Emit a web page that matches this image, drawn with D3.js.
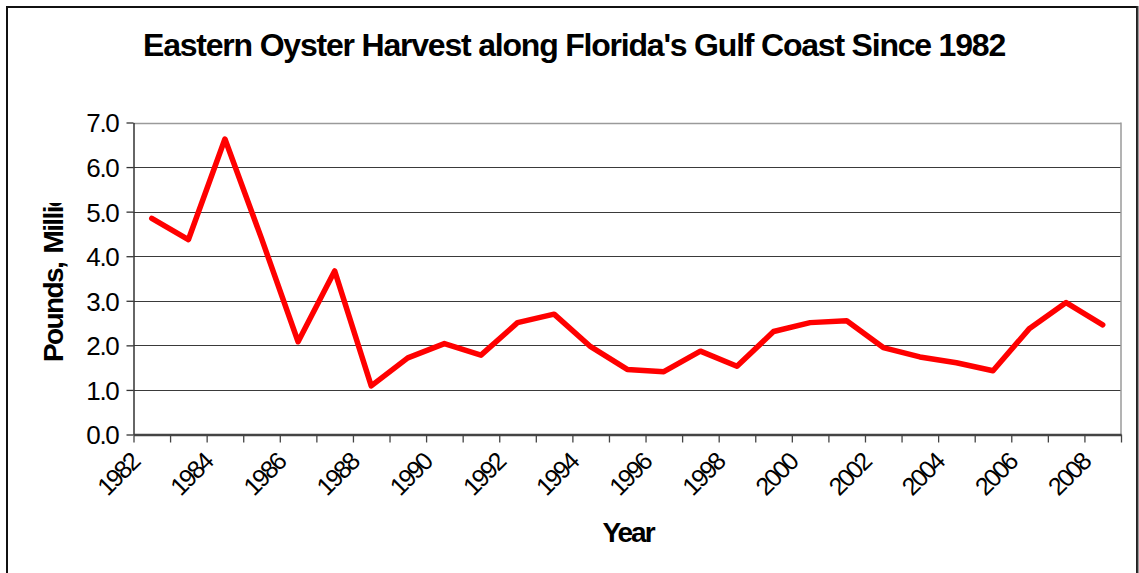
<!DOCTYPE html>
<html>
<head>
<meta charset="utf-8">
<script src="https://cdn.jsdelivr.net/npm/d3@7"></script>
<style>
  html, body { margin: 0; padding: 0; background: #fff; }
  svg { display: block; font-family: Arial, "Liberation Sans", sans-serif; }
</style>
</head>
<body>
<svg id="chart" width="1139" height="573"></svg>
<script>
// ---- data ----
const years = [1982,1983,1984,1985,1986,1987,1988,1989,1990,1991,1992,1993,1994,1995,1996,1997,1998,1999,2000,2001,2002,2003,2004,2005,2006,2007,2008];
const harvest = [4.85,4.37,6.63,4.40,2.08,3.67,1.09,1.72,2.04,1.78,2.51,2.70,1.97,1.46,1.41,1.87,1.53,2.31,2.51,2.55,1.95,1.74,1.61,1.43,2.38,2.96,2.46];
const yTicks = [0,1,2,3,4,5,6,7];
const xLabelYears = [1982,1984,1986,1988,1990,1992,1994,1996,1998,2000,2002,2004,2006,2008];
const titleText = "Eastern Oyster Harvest along Florida's Gulf Coast Since 1982";
const yTitle = "Pounds, Millions";
const xTitle = "Year";

// ---- layout ----
const svg = d3.select("#chart");
const plot = {left: 133.5, right: 1121, top: 122.5, bottom: 434.5};

// outer border
svg.append("rect").attr("x", 7).attr("y", 7).attr("width", 1130).attr("height", 600)
  .attr("fill", "none").attr("stroke", "#111").attr("stroke-width", 2);
svg.append("line").attr("x1", 1137.5).attr("x2", 1137.5).attr("y1", 6).attr("y2", 573)
  .attr("stroke", "#333").attr("stroke-width", 2);

const x = d3.scaleBand().domain(years).range([plot.left, plot.right]).padding(0);
const xt = d3.scaleLinear().domain([0, years.length]).range([plot.left, plot.right]);
const y = d3.scaleLinear().domain([0, 7]).range([plot.bottom, plot.top]);

// gridlines
svg.append("g").selectAll("line").data(yTicks.filter(d => d > 0)).join("line")
  .attr("x1", plot.left).attr("x2", plot.right)
  .attr("y1", d => Math.round(y(d)) + 0.5).attr("y2", d => Math.round(y(d)) + 0.5)
  .attr("stroke", d => d === 7 ? "#9a9a9a" : "#3a3a3a").attr("stroke-width", d => d === 7 ? 1.5 : 1.2);

// plot right border
svg.append("line").attr("x1", plot.right).attr("x2", plot.right).attr("y1", plot.top).attr("y2", plot.bottom)
  .attr("stroke", "#9a9a9a").attr("stroke-width", 1.5);

// y axis
const yAxis = svg.append("g").attr("transform", `translate(${plot.left},0)`)
  .call(d3.axisLeft(y).tickValues(yTicks).tickFormat(d3.format(".1f")).tickSize(7).tickSizeOuter(0));
yAxis.select(".domain").attr("stroke", "#333").attr("stroke-width", 1.5);
yAxis.selectAll(".tick line").attr("stroke", "#333").attr("stroke-width", 1.3);
yAxis.selectAll(".tick text").attr("x", -15).attr("dy", "0.36em")
  .attr("font-size", 26).attr("letter-spacing", -1.3).attr("fill", "#000")
  .attr("font-family", "Arial, 'Liberation Sans', sans-serif");

// x axis (ticks at category boundaries)
const xAxis = svg.append("g").attr("transform", `translate(0,${plot.bottom})`)
  .call(d3.axisBottom(xt).tickValues(d3.range(years.length + 1)).tickFormat("").tickSize(8).tickSizeOuter(0));
xAxis.select(".domain").attr("stroke", "#444").attr("stroke-width", 2.5);
xAxis.selectAll(".tick line").attr("stroke", "#444").attr("stroke-width", 1.3);

// x labels
svg.append("g").selectAll("text").data(xLabelYears).join("text")
  .attr("transform", d => `translate(${x(d) + x.bandwidth() / 2 - 11},${464}) rotate(-45)`)
  .attr("text-anchor", "end")
  .attr("font-size", 25).attr("letter-spacing", -2.2).attr("fill", "#000")
  .text(d => d);

// line
const line = d3.line().x((d, i) => x(years[i]) + x.bandwidth() / 2).y(d => y(d));
svg.append("path").datum(harvest).attr("d", line)
  .attr("fill", "none").attr("stroke", "#ff0000").attr("stroke-width", 5.5)
  .attr("stroke-linejoin", "round").attr("stroke-linecap", "round");

// title
const t = svg.append("text").attr("x", 574).attr("y", 56).attr("text-anchor", "middle")
  .attr("font-size", 32).attr("font-weight", "bold")
  .attr("fill", "#000").text(titleText);
(function fit(el, target) {
  const n = titleText.length;
  const w = el.node().getComputedTextLength();
  el.attr("letter-spacing", (target - w) / n);
})(t, 862);

// y title (clipped as in reference)
svg.append("clipPath").attr("id", "yclip").append("rect")
  .attr("x", 20).attr("y", 203).attr("width", 60).attr("height", 200);
svg.append("g").attr("clip-path", "url(#yclip)")
  .append("text")
  .attr("transform", "translate(63,362) rotate(-90)")
  .attr("text-anchor", "start").attr("font-size", 28).attr("font-weight", "bold")
  .attr("letter-spacing", -1.6).attr("word-spacing", 3).attr("fill", "#000").text(yTitle);

// x title
svg.append("text").attr("x", 628).attr("y", 542).attr("text-anchor", "middle")
  .attr("font-size", 28).attr("font-weight", "bold").attr("letter-spacing", -2)
  .attr("fill", "#000").text(xTitle);
</script>
</body>
</html>
